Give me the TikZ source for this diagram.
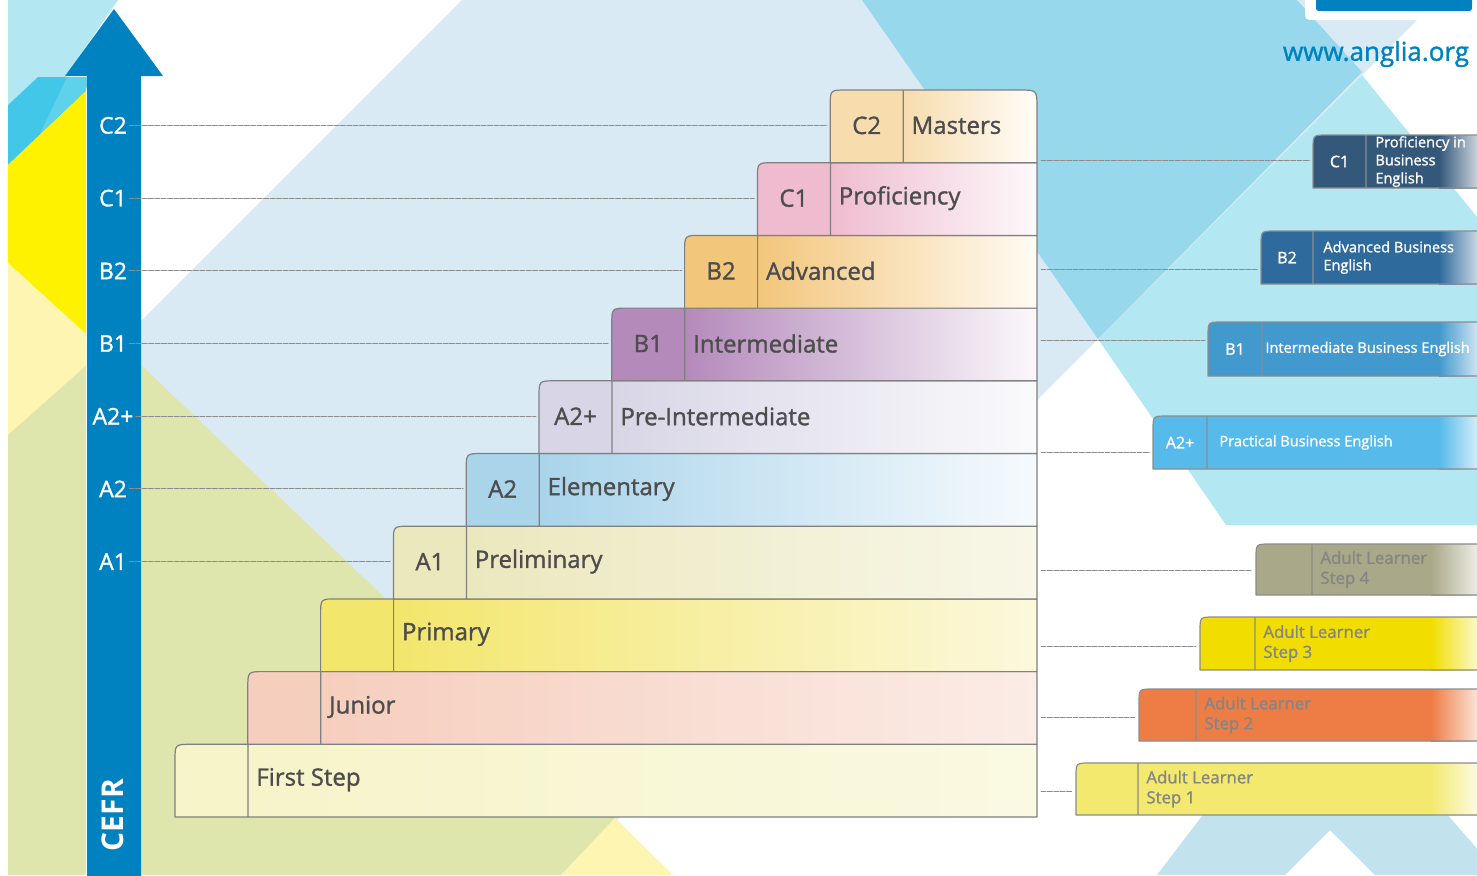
\documentclass[tikz,border=0pt]{standalone}
\usepackage{fontspec}
\setmainfont{Open Sans}
\newfontface\semib{Open Sans}[FakeBold=1.3]
\definecolor{arrowblue}{HTML}{0082C0}
\definecolor{lightblue}{HTML}{D9EAF4}
\definecolor{midcyan}{HTML}{98D8EC}
\definecolor{palecyan}{HTML}{B3E8F3}
\definecolor{topcyan}{HTML}{42C7E8}
\definecolor{topcyanL}{HTML}{5ED2EA}
\definecolor{sunyellow}{HTML}{FFF200}
\definecolor{paleyellow}{HTML}{FDF5B1}
\definecolor{leafgreen}{HTML}{DEE6AE}
\definecolor{footblue}{HTML}{C2E2EE}
\definecolor{textgray}{HTML}{4D4D4D}
% staircase: A = solid cell, B = end of the fade
\definecolor{fstA}{HTML}{F6F4C9}\definecolor{fstB}{HTML}{FAF9E2}
\definecolor{junA}{HTML}{F6CEBE}\definecolor{junB}{HTML}{FBECE6}
\definecolor{priA}{HTML}{F3E66C}\definecolor{priB}{HTML}{FCF8DC}
\definecolor{preA}{HTML}{EBE8BE}\definecolor{preB}{HTML}{F8F7E8}
\definecolor{eleA}{HTML}{A9D4EA}\definecolor{eleB}{HTML}{F6FAFD}
\definecolor{pinA}{HTML}{D8D6E6}\definecolor{pinB}{HTML}{FAFAFC}
\definecolor{intA}{HTML}{B48ABB}\definecolor{intB}{HTML}{FBF8FB}
\definecolor{advA}{HTML}{F2C67B}\definecolor{advB}{HTML}{FFFBF4}
\definecolor{proA}{HTML}{EFBCCF}\definecolor{proB}{HTML}{FDF9FB}
\definecolor{masA}{HTML}{F7DCAE}\definecolor{masB}{HTML}{FFFDF9}
% business and adult tabs
\definecolor{bizA}{HTML}{34587A}
\definecolor{bizB}{HTML}{2F6A9C}
\definecolor{bizC}{HTML}{4299CD}
\definecolor{bizD}{HTML}{56BBEA}
\definecolor{adD}{HTML}{A9A888}
\definecolor{adC}{HTML}{F1DE00}
\definecolor{adB}{HTML}{EE7C45}
\definecolor{adA}{HTML}{F3E96F}
\begin{document}
\begin{tikzpicture}[x=0.5pt, y=-0.5pt, line join=round, line cap=round,
    guide/.style={draw=black!45, line width=0.45pt, dash pattern=on 2.5pt off 0.7pt},
    boxline/.style={draw=black!50, line width=0.6pt},
    tabline/.style={draw=black!45, line width=0.6pt},
    lvl/.style={text=textgray, inner sep=0pt, font=\semib\fontsize{12}{14}\selectfont},
    cefr/.style={text=white, inner sep=1pt, font=\semib\fontsize{11.5}{13}\selectfont},
    biz/.style={text=white, inner sep=0pt, font=\semib\fontsize{7.3}{9}\selectfont},
    adult/.style={text=black!48, inner sep=0pt, align=left, font=\semib\fontsize{8.4}{10}\selectfont}]
\useasboundingbox (0,0) rectangle (1477,875);
\clip (0,0) rectangle (1477,875);
% background
\fill[white] (0,0) rectangle (1477,875);
\fill[lightblue] (462,0) -- (1437,0) -- (562,875) -- (8,875) -- (8,454) -- cycle;
\fill[midcyan] (862,0) -- (1297,0) -- (1362,72) -- (1098,339) -- cycle;
\fill[palecyan] (1362,75) -- (1477,217) -- (1477,525) -- (1226,525) -- (1098,339) -- cycle;
\fill[palecyan] (8,0) -- (118,0) -- (65,77) -- (38,77) -- (8,105) -- cycle;
\fill[topcyan] (8,105) -- (38,77) -- (87,77) -- (87,90) -- (8,165) -- cycle;
\fill[topcyanL] (67,77) -- (87,77) -- (87,90) -- (40,134) -- cycle;
\fill[sunyellow] (8,165) -- (87,90) -- (87,335) -- (8,263) -- cycle;
\fill[paleyellow] (8,263) -- (120,365) -- (8,470) -- cycle;
\fill[leafgreen] (8,435) -- (115,340) -- (615,818) -- (562,875) -- (8,875) -- cycle;
\fill[paleyellow] (561,875) -- (615,818) -- (673,875) -- cycle;
\fill[footblue] (1157,875) -- (1205,812) -- (1445,812) -- (1500,875) -- (1375,875) -- (1330,830) -- (1285,875) -- cycle;
% CEFR arrow
\fill[arrowblue] (87,876) -- (87,76) -- (65,76) -- (114,9) -- (163,76) -- (141,76) -- (141,876) -- cycle;
\draw[white, line width=0.5pt] (86.5,88) -- (86.5,876);
\node[rotate=90, text=white, inner sep=0pt, font=\bfseries\fontsize{15}{16}\selectfont] (cefr) at (113,815) {CEFR};
% tab and web address
\fill[white] (1305,0) -- (1305,10) .. controls (1305,20) .. (1315,20) -- (1477,20) -- (1477,0) -- cycle;
\fill[arrowblue] (1316,0) -- (1316,5) .. controls (1316,11) .. (1322,11) -- (1466,11) .. controls (1472,11) .. (1472,5) -- (1472,0) -- cycle;
\node[text=arrowblue, inner sep=0pt, font=\semib\fontsize{13}{15}\selectfont] (url) at (1376,54) {www.anglia.org};
% staircase of exams
\foreach \i/\lev/\title/\col in {0//First Step/fst, 1//Junior/jun, 2//Primary/pri,
    3/A1/Preliminary/pre, 4/A2/Elementary/ele, 5/A2+/Pre-Intermediate/pin,
    6/B1/Intermediate/int, 7/B2/Advanced/adv, 8/C1/Proficiency/pro, 9/C2/Masters/mas}{
  \pgfmathsetmacro\yb{817-72.7*\i}
  \pgfmathsetmacro\yt{\yb-72.7}
  \pgfmathsetmacro\ym{\yb-36.3}
  \pgfmathsetmacro\xl{175+72.8*\i}
  \pgfmathsetmacro\xd{\xl+73}
  \pgfmathsetmacro\rr{\i==9 ? 18 : 0}
  \fill[\col A] (\xl,\yb) -- (\xl,{\yt+16}) .. controls (\xl,\yt) .. ({\xl+16},\yt) -- ({1037-\rr},\yt) .. controls (1037,\yt) .. (1037,{\yt+\rr}) -- (1037,\yb) -- cycle;
  \shade[left color=\col A, right color=\col B] (\xd,\yb) -- (\xd,\yt) -- ({1037-\rr},\yt) .. controls (1037,\yt) .. (1037,{\yt+\rr}) -- (1037,\yb) -- cycle;
  \draw[boxline] (\xl,\yb) -- (\xl,{\yt+16}) .. controls (\xl,\yt) .. ({\xl+16},\yt) -- ({1037-\rr},\yt) .. controls (1037,\yt) .. (1037,{\yt+\rr}) -- (1037,\yb) -- cycle (\xd,\yt) -- (\xd,\yb);
  \node[lvl, anchor=west] (name-\col) at ({\xd+8},{\ym-1}) {\title};
  \ifnum\i>2
    \node[lvl] (lev-\col) at ({(\xl+\xd)/2},{\ym-1}) {\lev};
    \node[cefr] (cefr-\col) at (113,{\ym-1}) {\lev};
    \coordinate (step-\col) at ({\xl-3},{\ym-1});
    \draw[guide] (cefr-\col) -- (step-\col);
  \fi
}
% business English tabs
\foreach \nm/\lev/\xa/\xd/\xt/\yt/\yb/\yl/\col/\txt in {
    c1/C1/1313/1366/1375/135/188/160/bizA/{Proficiency in\\Business\\English},
    b2/B2/1261/1313/1323/231/284/269/bizB/{Advanced Business\\English},
    b1/B1/1208/1262/1265/322/376/340/bizC/{Intermediate Business English},
    ap/A2+/1153/1207/1219/416/469/452/bizD/{Practical Business English}}{
  \fill[\col] (\xa,\yb) -- (\xa,{\yt+14}) .. controls (\xa,\yt) .. ({\xa+14},\yt) -- (1440,\yt) -- (1440,\yb) -- cycle;
  \shade[left color=\col, right color=\col!25!white] (1439,\yt) rectangle (1478,\yb);
  \draw[tabline] (1478,\yb) -- (\xa,\yb) -- (\xa,{\yt+14}) .. controls (\xa,\yt) .. ({\xa+14},\yt) -- (1478,\yt) (\xd,\yt) -- (\xd,\yb);
  \node[biz, font=\semib\fontsize{8}{9}\selectfont] (lev-\nm) at ({(\xa+\xd)/2},{(\yt+\yb)/2}) {\lev};
  \node[biz, anchor=west, align=left] (txt-\nm) at (\xt,{(\yt+\yb)/2}) {\txt};
  \coordinate (from-\nm) at (1041,\yl);
  \coordinate (to-\nm) at ({\xa-3},\yl);
  \draw[guide] (from-\nm) -- (to-\nm);
}
% adult learner tabs
\foreach \nm/\xa/\xd/\yt/\yb/\yl/\col/\stp in {
    s4/1256/1312/544/595/570/adD/4,
    s3/1200/1255/617/670/646/adC/3,
    s2/1139/1196/689/741/717/adB/2,
    s1/1076/1138/763/815/791/adA/1}{
  \fill[\col] (\xa,\yb) -- (\xa,{\yt+14}) .. controls (\xa,\yt) .. ({\xa+14},\yt) -- (1432,\yt) -- (1432,\yb) -- cycle;
  \shade[left color=\col, right color=\col!20!white] (1431,\yt) rectangle (1478,\yb);
  \draw[tabline] (1478,\yb) -- (\xa,\yb) -- (\xa,{\yt+14}) .. controls (\xa,\yt) .. ({\xa+14},\yt) -- (1478,\yt) (\xd,\yt) -- (\xd,\yb);
  \node[adult, anchor=west] (txt-\nm) at ({\xd+8},{(\yt+\yb)/2}) {Adult Learner\\Step \stp};
  \coordinate (from-\nm) at (1041,\yl);
  \coordinate (to-\nm) at ({\xa-4},\yl);
  \draw[guide] (from-\nm) -- (to-\nm);
}
\end{tikzpicture}
\end{document}
